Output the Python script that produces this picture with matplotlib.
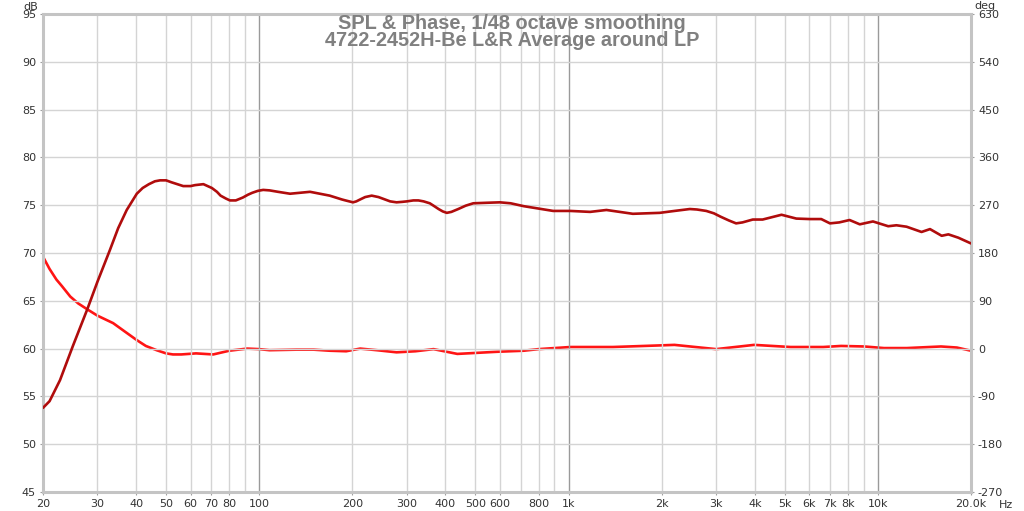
import matplotlib
matplotlib.use("Agg")
import matplotlib.pyplot as plt
import numpy as np

# ---- data ----
spl_freq = [20, 21, 22.7, 25, 27.8, 30, 32.9, 35, 37.3, 40.2, 42, 44, 46, 47.8, 50, 52, 56.8,
            60, 62, 66, 70.3, 73, 75, 78, 80.4, 84, 88.5, 92, 95, 99, 103, 108, 115, 125.8,
            146, 169, 185, 190, 201, 206, 212, 220, 231, 243, 255, 265, 278, 290, 300, 315,
            327, 340, 356, 368, 380, 392, 404, 418, 440, 465, 492, 540, 600, 650, 716, 892,
            1014, 1174, 1326, 1614, 1972, 2200, 2466, 2600, 2788, 2950, 3100, 3300, 3480,
            3650, 3940, 4240, 4880, 5450, 6020, 6560, 7000, 7500, 8100, 8740, 9640, 10800,
            11480, 12380, 13840, 14740, 16080, 16900, 18200, 20000]
spl_db = [53.8, 54.5, 56.7, 60.3, 64.1, 67.0, 70.3, 72.6, 74.5, 76.2, 76.8, 77.2, 77.5, 77.6,
          77.6, 77.4, 77.0, 77.0, 77.1, 77.2, 76.8, 76.4, 76.0, 75.7, 75.5, 75.5, 75.8, 76.1,
          76.3, 76.5, 76.6, 76.55, 76.4, 76.2, 76.4, 76.0, 75.6, 75.5, 75.3, 75.4, 75.6,
          75.85, 76.0, 75.85, 75.6, 75.4, 75.3, 75.35, 75.4, 75.5, 75.5, 75.4, 75.2, 74.9,
          74.6, 74.35, 74.2, 74.3, 74.6, 74.95, 75.2, 75.25, 75.3, 75.2, 74.9, 74.4, 74.4,
          74.3, 74.5, 74.1, 74.2, 74.4, 74.6, 74.55, 74.4, 74.15, 73.8, 73.4, 73.1, 73.2,
          73.5, 73.5, 74.0, 73.6, 73.55, 73.55, 73.1, 73.2, 73.45, 73.0, 73.3, 72.8, 72.9,
          72.75, 72.2, 72.5, 71.8, 71.95, 71.6, 71.0]

ph_freq = [20, 21, 22.1, 23, 24.5, 26, 27.8, 30, 33.7, 37, 40.2, 43, 46.6, 50, 52.6, 56,
           62.5, 71, 80, 91.4, 100, 108, 132, 150, 169, 191, 212, 240, 278, 320, 366, 437,
           586, 716, 800, 1014, 1392, 1972, 2200, 3000, 3980, 5220, 6660, 7600, 9040, 10460,
           12400, 16000, 18000, 20000]
ph_deg = [173, 150, 130, 118, 98, 85, 74, 62, 48, 31, 16, 5, -3, -9, -11, -11, -9, -11, -4,
          0, -1, -3, -2, -2, -4, -5, 0, -3, -7, -5, -1, -10, -6, -4, -1, 3, 3, 6, 7, -1, 7,
          3, 3, 5, 4, 1, 1, 4, 2, -4]

x_ticks = [20, 30, 40, 50, 60, 70, 80, 100, 200, 300, 400, 500, 600, 800, 1000, 2000, 3000,
           4000, 5000, 6000, 7000, 8000, 10000, 20000]
x_labels = ["20", "30", "40", "50", "60", "70", "80", "100", "200", "300", "400", "500", "600",
            "800", "1k", "2k", "3k", "4k", "5k", "6k", "7k", "8k", "10k", "20.0k"]
db_ticks = [45, 50, 55, 60, 65, 70, 75, 80, 85, 90, 95]
deg_ticks = [-270, -180, -90, 0, 90, 180, 270, 360, 450, 540, 630]

title1 = "SPL & Phase, 1/48 octave smoothing"
title2 = "4722-2452H-Be L&R Average around LP"

# ---- figure ----
W, H = 1024, 511
fig = plt.figure(figsize=(W / 100, H / 100), dpi=100)
fig.patch.set_facecolor("white")
L, R, T, B = 43, 971, 14, 492
ax = fig.add_axes([L / W, 1 - B / H, (R - L) / W, (B - T) / H])
ax.set_xscale("log")
ax.set_xlim(20, 20000)
ax.set_ylim(45, 95)

# grid
minor = []
for dec in [10, 100, 1000, 10000]:
    for m in range(2, 10):
        f = m * dec
        if 20 <= f <= 20000:
            minor.append(f)
for f in minor:
    ax.axvline(f, color="#d4d4d4", lw=1.0, zorder=1)
for f in [100, 1000, 10000]:
    ax.axvline(f, color="#9a9a9a", lw=1.0, zorder=1)
for y in db_ticks:
    ax.axhline(y, color="#d4d4d4", lw=1.0, zorder=1)

ax.set_xticks(x_ticks)
ax.set_xticklabels(x_labels)
ax.xaxis.set_minor_locator(matplotlib.ticker.NullLocator())
ax.set_yticks(db_ticks)
ax.set_yticklabels([str(v) for v in db_ticks])
ax.tick_params(axis="both", length=2, color="#a0a0a0", labelsize=8, labelcolor="#333333", pad=3)

for s in ax.spines.values():
    s.set_color("#c4c4c4")
    s.set_linewidth(2.2)

ax2 = ax.twinx()
ax2.set_ylim(-270, 630)
ax2.set_yticks(deg_ticks)
ax2.set_yticklabels([str(v) for v in deg_ticks])
ax2.tick_params(axis="y", length=2, color="#a0a0a0", labelsize=8, labelcolor="#333333", pad=3)
for s in ax2.spines.values():
    s.set_visible(False)

ax2.plot(ph_freq, ph_deg, color="#ff1414", lw=1.9, zorder=3, solid_joinstyle="round",
         solid_capstyle="round")
ax.set_zorder(ax2.get_zorder() + 1)
ax.patch.set_visible(False)
ax.plot(spl_freq, spl_db, color="#b00c0c", lw=1.9, zorder=4, solid_joinstyle="round",
        solid_capstyle="round")

# texts
fig.text(L / W - 0.012, 1 - 7 / H, "dB", ha="center", va="center", fontsize=8, color="#333333")
fig.text(985 / W, 1 - 6 / H, "deg", ha="center", va="center", fontsize=8, color="#333333")
fig.text(1006 / W, 1 - 505 / H, "Hz", ha="center", va="center", fontsize=8, color="#333333")
fig.text(512 / W, 1 - 23 / H, title1, ha="center", va="center", fontsize=14.3,
         fontweight="bold", color="#808080", family="Liberation Sans")
fig.text(512 / W, 1 - 41 / H, title2, ha="center", va="center", fontsize=14.3,
         fontweight="bold", color="#808080", family="Liberation Sans")

fig.savefig("out.png", dpi=100, facecolor="white")
